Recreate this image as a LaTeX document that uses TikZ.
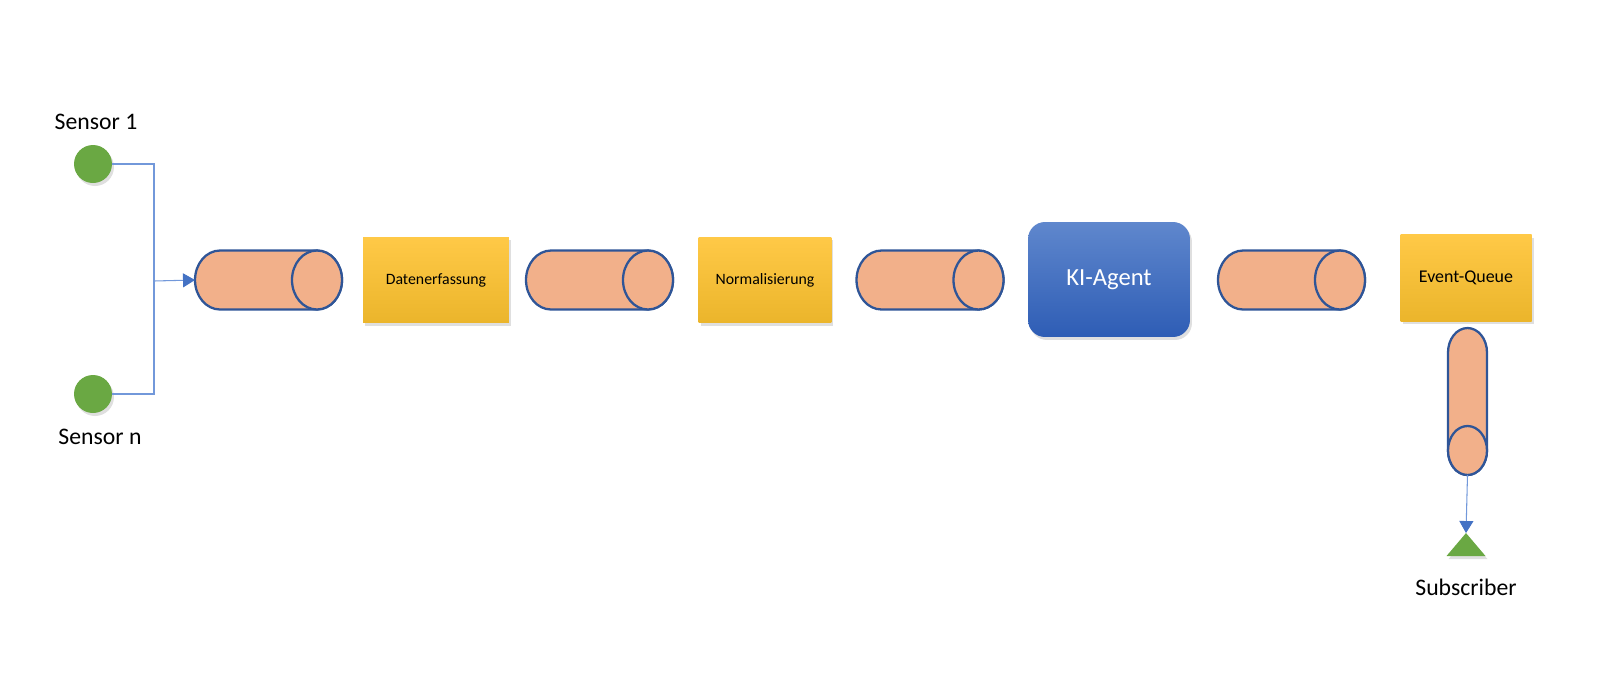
\documentclass[tikz,border=0pt]{standalone}
\usepackage{fontspec}
\setmainfont{Carlito}
\usetikzlibrary{shapes.geometric,shadows,arrows.meta}
\definecolor{pipefill}{HTML}{F2B08A}
\definecolor{pipeline}{HTML}{2F5597}
\definecolor{linkblue}{HTML}{4472C4}
\definecolor{linkpale}{HTML}{7298DA}
\definecolor{goldtop}{HTML}{FFC947}
\definecolor{goldbot}{HTML}{EBB52B}
\definecolor{agenttop}{HTML}{5F87CD}
\definecolor{agentbot}{HTML}{2E5DB5}
\definecolor{sensgreen}{HTML}{6AA843}
\begin{document}
\begin{tikzpicture}[x=0.02cm,y=0.02cm]
\def\rx{0.5cm}
\def\ry{0.59cm}
\tikzset{
base/.style={inner sep=0pt,outer sep=0pt,font=\fontsize{9}{11}\selectfont},
shade/.style={drop shadow={opacity=0.25,shadow xshift=0.04cm,shadow yshift=-0.06cm}},
pipe/.style={base,rectangle,minimum width=2.94cm,minimum height=1.18cm},
pipebody/.style={draw=pipeline,line width=1.3pt,fill=pipefill},
stage/.style={base,shade,rectangle,top color=goldtop,bottom color=goldbot,minimum height=1.72cm},
agent/.style={base,shade,rectangle,rounded corners=0.34cm,top color=agenttop,bottom color=agentbot,minimum width=3.24cm,minimum height=2.3cm,text=white,font=\fontsize{14}{17}\selectfont},
sensor/.style={base,shade,circle,fill=sensgreen,minimum size=0.76cm},
lbl/.style={font=\fontsize{13.5}{16}\selectfont},
every path/.style={>={Triangle[length=0.24cm,width=0.28cm,color=linkblue]}},
link/.style={draw=linkpale,line width=0.6pt}}
\useasboundingbox (0,0) rectangle (1600,-694);
% Sensoren
\node[sensor] (S1) at (93,-164) {};
\node[sensor] (Sn) at (93,-394) {};
\node[lbl] (LS1) at (96,-122) {Sensor 1};
\node[lbl] (LSn) at (100,-437) {Sensor n};
\coordinate (J) at (154,-281);
% Verarbeitungskette
\node[pipe] (P1) at (268.5,-280) {};
\node[stage,minimum width=2.92cm] (DE) at (436,-280) {Datenerfassung};
\node[pipe] (P2) at (599.5,-280) {};
\node[stage,minimum width=2.66cm] (NO) at (765,-280) {Normalisierung};
\node[pipe] (P3) at (930,-280) {};
\node[agent] (KI) at (1109,-279.5) {KI-Agent};
\node[pipe] (P4) at (1291.5,-280) {};
\node[stage,minimum width=2.62cm,minimum height=1.74cm,font=\fontsize{10.2}{12}\selectfont] (EQ) at (1466,-278) {Event-Queue};
\node[pipe,minimum width=0.78cm,minimum height=2.94cm] (P5) at (1467.5,-401.5) {};
% Rohre
\foreach \p in {P1,P2,P3,P4} {
\path[pipebody] ([xshift=\rx]\p.north west) arc[start angle=90,end angle=270,x radius=\rx,y radius=\ry]
  -- ([xshift=-\rx]\p.south east) arc[start angle=-90,end angle=90,x radius=\rx,y radius=\ry] -- cycle;
\path[pipebody] ([xshift=-\rx]\p.east) ellipse[x radius=\rx,y radius=\ry];
}
\path[pipebody] ([yshift=-0.49cm]P5.north east) arc[start angle=0,end angle=180,x radius=0.39cm,y radius=0.49cm]
  -- ([yshift=0.49cm]P5.south west) arc[start angle=180,end angle=360,x radius=0.39cm,y radius=0.49cm] -- cycle;
\path[pipebody] ([yshift=0.49cm]P5.south) ellipse[x radius=0.39cm,y radius=0.49cm];
% Subscriber
\node[base,shade,isosceles triangle,isosceles triangle stretches,fill=sensgreen,minimum width=0.78cm,minimum height=0.46cm,rotate=90] (SUB) at (1466,-547) {};
\node[lbl] (LSUB) at (1466,-587) {Subscriber};
\path[link] (S1.east) -| (J);
\path[link] (Sn.east) -| (J);
\path[link,->] (J) -- (P1.west);
\path[link,->] (P5.south) -- (SUB.apex);
\end{tikzpicture}
\end{document}
